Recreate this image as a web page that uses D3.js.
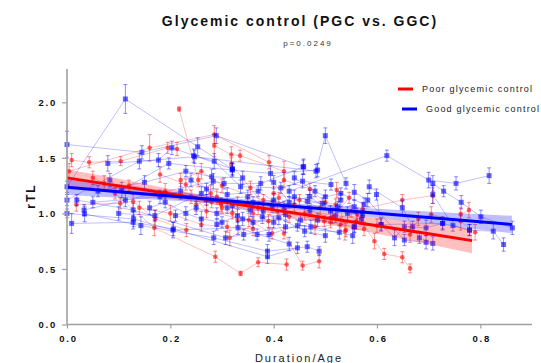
<!DOCTYPE html>
<html>
<head>
<meta charset="utf-8">
<script src="https://cdn.jsdelivr.net/npm/d3@7"></script>
<style>
html,body{margin:0;padding:0;background:#fff;}
svg{display:block;font-family:"Liberation Sans",Arial,sans-serif;}
</style>
</head>
<body>
<svg id="chart" width="541" height="363"></svg>
<script>
// ---- data: each subject = list of [duration/age, rTL, error] ----
const redSubjects = [
  [[0.217,1.94,0.02],[0.254,1.30,0.06],[0.30,1.05,0.05]],
  [[0.009,1.48,0.06],[0.043,1.46,0.05],[0.104,1.47,0.04],[0.195,1.59,0.05],[0.213,1.58,0.06]],
  [[0.004,1.38,0.07],[0.16,1.59,0.12],[0.285,1.71,0.08],[0.391,1.46,0.06]],
  [[0.018,1.08,0.06],[0.103,1.09,0.05],[0.128,1.11,0.06],[0.171,0.95,0.08],[0.231,0.85,0.06]],
  [[0.093,1.18,0.05],[0.169,0.87,0.07],[0.287,0.61,0.05],[0.336,0.46,0.02],[0.370,0.56,0.04],[0.425,0.54,0.05]],
  [[0.285,1.61,0.10],[0.318,1.53,0.07],[0.335,1.52,0.05],[0.420,1.38,0.09]],
  [[0.318,1.44,0.06],[0.355,1.23,0.06],[0.42,0.82,0.05],[0.456,0.53,0.04],[0.488,0.57,0.06]],
  [[0.278,1.18,0.07],[0.298,1.08,0.06],[0.330,0.94,0.05],[0.352,0.94,0.06],[0.397,0.82,0.05]],
  [[0.315,0.78,0.07],[0.407,1.02,0.06],[0.498,0.93,0.05],[0.514,0.97,0.06],[0.546,1.14,0.05]],
  [[0.522,1.21,0.07],[0.538,0.84,0.08],[0.540,0.85,0.06],[0.575,0.86,0.06]],
  [[0.562,0.99,0.06],[0.595,0.75,0.07],[0.614,0.635,0.05],[0.649,0.605,0.05],[0.664,0.505,0.04]],
  [[0.572,1.04,0.06],[0.649,1.12,0.05],[0.708,1.16,0.07]],
  [[0.664,0.81,0.07],[0.680,0.95,0.06],[0.705,0.99,0.07],[0.762,0.93,0.08],[0.790,0.83,0.07]],
  [[0.762,0.99,0.06],[0.778,1.03,0.07]],
  [[0.05,1.32,0.06],[0.072,1.27,0.07],[0.12,1.25,0.05],[0.19,1.20,0.07],[0.24,1.15,0.06],[0.28,1.10,0.05]],
  [[0.14,1.05,0.06],[0.20,1.00,0.07],[0.26,0.90,0.06],[0.31,0.88,0.05],[0.36,0.86,0.06]],
  [[0.22,1.30,0.06],[0.26,1.38,0.07],[0.30,1.25,0.06],[0.38,1.12,0.05],[0.44,1.08,0.06]],
  [[0.36,1.00,0.05],[0.39,0.93,0.06],[0.43,0.97,0.05],[0.48,0.88,0.07],[0.53,0.90,0.06]],
  [[0.40,1.18,0.06],[0.45,1.12,0.05],[0.49,1.05,0.06],[0.55,1.02,0.05]],
  [[0.42,1.30,0.07],[0.47,1.22,0.05],[0.50,1.10,0.06],[0.52,1.08,0.05]],
  [[0.25,1.08,0.06],[0.29,1.15,0.07],[0.33,1.10,0.05],[0.37,1.05,0.06],[0.41,1.14,0.05]],
  [[0.18,1.35,0.07],[0.23,1.26,0.05],[0.27,1.02,0.06],[0.32,1.00,0.05],[0.35,1.08,0.06]],
  [[0.46,1.00,0.06],[0.51,0.92,0.05],[0.56,0.93,0.07],[0.60,0.89,0.06]]
];
const blueSubjects = [
  [[0,1.24,0.05],[0.113,2.03,0.13],[0.253,1.60,0.08],[0.32,1.40,0.06]],
  [[0,1.62,0.12],[0.145,1.55,0.06],[0.289,1.70,0.07],[0.457,1.42,0.06]],
  [[0,1.12,0.05],[0.14,1.47,0.07],[0.247,1.51,0.06],[0.482,1.38,0.06],[0.5,1.70,0.07],[0.54,1.27,0.05]],
  [[0.43,1.20,0.05],[0.619,1.52,0.05],[0.70,1.30,0.07],[0.753,1.27,0.06],[0.817,1.34,0.07]],
  [[0.708,1.27,0.07],[0.729,1.20,0.05],[0.763,1.10,0.06],[0.801,0.97,0.06],[0.862,0.87,0.06]],
  [[0.708,1.17,0.08],[0.747,0.89,0.05],[0.779,0.85,0.05],[0.825,0.84,0.07],[0.845,0.72,0.06]],
  [[0.599,1.17,0.05],[0.608,0.90,0.06],[0.634,0.78,0.07],[0.653,0.88,0.05],[0.695,0.87,0.07],[0.727,0.91,0.05]],
  [[0.585,1.24,0.06],[0.649,1.05,0.07],[0.669,0.88,0.05],[0.682,0.78,0.05],[0.708,0.73,0.06]],
  [[0.556,1.19,0.07],[0.582,1.12,0.06],[0.653,0.76,0.05],[0.695,0.74,0.06]],
  [[0.009,0.91,0.09],[0.128,0.92,0.06],[0.206,0.86,0.06],[0.388,0.61,0.06],[0.446,0.69,0.05]],
  [[0.034,0.995,0.07],[0.143,0.89,0.08],[0.284,0.78,0.06],[0.388,0.66,0.06],[0.465,0.70,0.05],[0.488,0.66,0.04]],
  [[0,1.00,0.04],[0.129,0.95,0.07],[0.205,0.85,0.07],[0.331,0.87,0.06],[0.43,0.725,0.06]],
  [[0.019,1.12,0.05],[0.128,1.03,0.06],[0.307,0.78,0.06],[0.342,0.81,0.05],[0.423,0.88,0.05],[0.527,0.83,0.06]],
  [[0.033,1.03,0.05],[0.113,1.12,0.06],[0.283,1.29,0.07],[0.304,1.27,0.05],[0.375,1.27,0.06],[0.458,1.42,0.07]],
  [[0.083,1.30,0.06],[0.106,1.21,0.07],[0.197,1.45,0.05],[0.32,1.39,0.06],[0.394,1.36,0.07],[0.485,1.39,0.06]],
  [[0.245,1.52,0.06],[0.285,1.47,0.07],[0.336,1.24,0.06],[0.414,1.23,0.05],[0.456,1.29,0.06],[0.511,1.26,0.05]],
  [[0.32,1.07,0.05],[0.355,1.03,0.06],[0.397,1.06,0.05],[0.44,1.15,0.06],[0.495,1.09,0.05],[0.543,1.00,0.06]],
  [[0.368,0.81,0.05],[0.391,0.81,0.06],[0.446,0.89,0.05],[0.472,0.88,0.06],[0.553,0.80,0.07]],
  [[0.378,0.97,0.06],[0.423,0.99,0.05],[0.452,0.94,0.05],[0.485,0.94,0.06],[0.556,0.88,0.05]],
  [[0.465,1.11,0.06],[0.524,1.06,0.05],[0.556,1.06,0.06],[0.572,0.98,0.05]],
  [[0.16,1.05,0.06],[0.19,1.10,0.05],[0.23,1.00,0.06],[0.26,0.95,0.07],[0.30,0.92,0.05]],
  [[0.05,1.10,0.05],[0.18,1.15,0.06],[0.22,1.20,0.07],[0.27,1.12,0.05],[0.35,1.15,0.06]],
  [[0.21,0.98,0.05],[0.25,1.05,0.06],[0.29,1.00,0.05],[0.34,0.95,0.06],[0.40,0.92,0.05]],
  [[0.36,1.10,0.05],[0.40,1.12,0.06],[0.47,1.02,0.05],[0.52,0.98,0.06],[0.57,0.95,0.05]],
  [[0.24,1.30,0.06],[0.27,1.22,0.05],[0.31,1.17,0.06],[0.37,1.20,0.05],[0.42,1.05,0.06]],
  [[0.44,1.32,0.06],[0.48,1.20,0.05],[0.50,1.15,0.06],[0.53,1.18,0.05],[0.575,1.08,0.06]],
  [[0.079,1.45,0.07],[0.177,1.48,0.06],[0.203,1.59,0.06],[0.32,1.40,0.05]],
  [[0.556,0.88,0.05],[0.608,0.90,0.05],[0.727,0.91,0.06],[0.779,0.85,0.05]],
  [[0.10,1.00,0.06],[0.17,0.98,0.05],[0.26,1.18,0.06],[0.31,1.05,0.05],[0.38,1.02,0.06]],
  [[0.29,0.90,0.05],[0.33,0.98,0.06],[0.36,0.92,0.05],[0.41,0.96,0.06],[0.46,0.84,0.05],[0.50,0.80,0.06]],
  [[0.40,1.28,0.06],[0.43,1.10,0.05],[0.47,1.15,0.06],[0.51,1.02,0.05],[0.53,1.12,0.06]],
  [[0.06,1.20,0.05],[0.15,1.28,0.06],[0.23,1.38,0.05],[0.28,1.33,0.07],[0.34,1.32,0.06]]
];
// fitted lines with 95% bands: [x, fit, lower, upper]
const redFit = [
  [0,1.32,1.225,1.395],[0.1,1.248,1.180,1.311],[0.2,1.176,1.133,1.219],[0.3,1.104,1.073,1.135],
  [0.4,1.032,0.997,1.067],[0.5,0.960,0.909,1.011],[0.6,0.888,0.816,0.960],[0.7,0.816,0.722,0.910],
  [0.784,0.755,0.641,0.860]
];
const blueFit = [
  [0,1.235,1.165,1.305],[0.1,1.196,1.141,1.251],[0.2,1.157,1.116,1.198],[0.3,1.118,1.088,1.148],
  [0.4,1.079,1.054,1.104],[0.5,1.040,1.010,1.070],[0.6,1.002,0.961,1.043],[0.7,0.963,0.908,1.018],
  [0.861,0.900,0.821,0.979]
];
const xTicks = [0.0,0.2,0.4,0.6,0.8];
const yTicks = [0.0,0.5,1.0,1.5,2.0];
const legendLabels = ["Poor glycemic control","Good glycemic control"];
const titleText = "Glycemic control (PGC vs. GGC)";
const pText = "p=0.0249";

// ---- drawing ----
const svg = d3.select("#chart");
const x = d3.scaleLinear().domain([0,0.9]).range([67,532]);
const y = d3.scaleLinear().domain([0,2.3]).range([324.5,69]);
const RED = "#ff0000", BLUE = "#0000ff";

function drawSubjects(subjects, color, square){
  const g = svg.append("g");
  const line = d3.line().x(d=>x(d[0])).y(d=>y(d[1]));
  subjects.forEach(s=>{
    g.append("path").attr("d",line(s)).attr("fill","none")
      .attr("stroke",color).attr("stroke-opacity",0.25).attr("stroke-width",1);
  });
  subjects.forEach(s=>{
    s.forEach(d=>{
      const cx=x(d[0]), y1=y(d[1]-d[2]), y2=y(d[1]+d[2]);
      const eb = g.append("g").attr("stroke",color).attr("stroke-opacity",0.45).attr("stroke-width",1);
      eb.append("line").attr("x1",cx).attr("x2",cx).attr("y1",y1).attr("y2",y2);
      eb.append("line").attr("x1",cx-2).attr("x2",cx+2).attr("y1",y1).attr("y2",y1);
      eb.append("line").attr("x1",cx-2).attr("x2",cx+2).attr("y1",y2).attr("y2",y2);
      if(square){
        g.append("rect").attr("x",cx-2.5).attr("y",y(d[1])-2.5).attr("width",5).attr("height",5)
          .attr("fill",color).attr("fill-opacity",0.6);
      } else {
        g.append("circle").attr("cx",cx).attr("cy",y(d[1])).attr("r",2.3)
          .attr("fill",color).attr("fill-opacity",0.6);
      }
    });
  });
}
drawSubjects(redSubjects, RED, false);
drawSubjects(blueSubjects, BLUE, true);

// bands and fit lines
const area = d3.area().x(d=>x(d[0])).y0(d=>y(d[2])).y1(d=>y(d[3])).curve(d3.curveMonotoneX);
svg.append("path").attr("d",area(redFit)).attr("fill",RED).attr("fill-opacity",0.25);
svg.append("path").attr("d",area(blueFit)).attr("fill",BLUE).attr("fill-opacity",0.25);
const fl = d3.line().x(d=>x(d[0])).y(d=>y(d[1]));
svg.append("path").attr("d",fl(redFit)).attr("fill","none").attr("stroke",RED).attr("stroke-width",3);
svg.append("path").attr("d",fl(blueFit)).attr("fill","none").attr("stroke",BLUE).attr("stroke-width",3);

// axes
const axisColor = "#a0a0a0";
const xAxis = svg.append("g").attr("transform",`translate(0,${y(0)})`)
  .call(d3.axisBottom(x).tickValues(xTicks).tickSize(4).tickFormat(d3.format(".1f")));
xAxis.select(".domain").attr("d",`M${x(0)},0H${x(0.9)}`);
const yAxis = svg.append("g").attr("transform",`translate(${x(0)},0)`)
  .call(d3.axisLeft(y).tickValues(yTicks).tickSize(5).tickFormat(d3.format(".1f")));
yAxis.select(".domain").attr("d",`M0,${y(2.3)}V${y(0)}`);
[xAxis,yAxis].forEach(a=>{
  a.select(".domain").attr("stroke",axisColor).attr("stroke-width",1.6);
  a.selectAll(".tick line").attr("stroke",axisColor).attr("stroke-width",1.2);
  a.selectAll("text").attr("fill","#111").attr("font-weight","bold")
    .attr("font-size","9.5px").attr("font-family","Liberation Sans, Arial, sans-serif")
    .style("letter-spacing","1.8px");
});
xAxis.selectAll("text").attr("dy",null).attr("y",17.5).attr("dx","1");
yAxis.selectAll("text").attr("x",-10).attr("dy","0.35em");

// titles
svg.append("text").attr("x",300).attr("y",25.5).attr("text-anchor","middle")
  .attr("font-weight","bold").attr("font-size","14px").style("letter-spacing","2px")
  .attr("fill","#111").text(titleText);
svg.append("text").attr("x",308).attr("y",45.5).attr("text-anchor","middle")
  .attr("font-size","8px").style("letter-spacing","2px").attr("fill","#333").text(pText);
svg.append("text").attr("x",299).attr("y",362).attr("text-anchor","middle")
  .attr("font-size","11px").style("letter-spacing","2px").attr("fill","#222").text("Duration/Age");
svg.append("text").attr("transform","translate(35,196) rotate(-90)").attr("text-anchor","middle")
  .attr("font-weight","bold").attr("font-size","12px").style("letter-spacing","2px")
  .attr("fill","#111").text("rTL");

// legend
const leg = [[398,89,RED,422],[402,109,BLUE,426]];
leg.forEach((l,i)=>{
  svg.append("line").attr("x1",l[0]).attr("x2",l[0]+15).attr("y1",l[1]).attr("y2",l[1])
    .attr("stroke",l[2]).attr("stroke-width",3);
  svg.append("text").attr("x",l[3]).attr("y",l[1]+3).attr("font-size","9px")
    .style("letter-spacing","1.2px").attr("fill","#222").text(legendLabels[i]);
});
</script>
</body>
</html>
